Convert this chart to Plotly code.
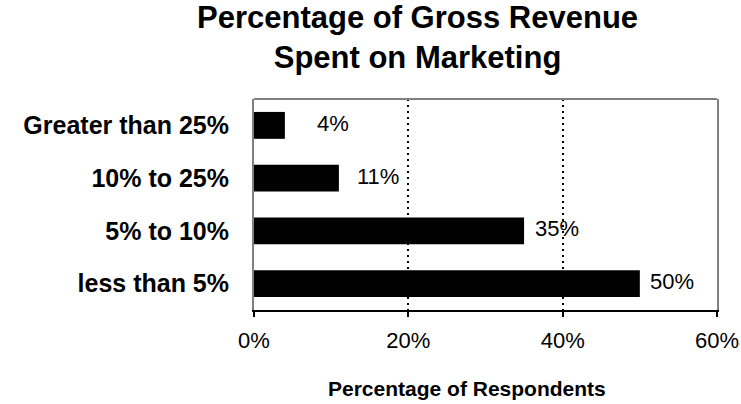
import plotly.graph_objects as go

# Survey results: share of respondents by marketing spend bracket (top to bottom)
categories = ["Greater than 25%", "10% to 25%", "5% to 10%", "less than 5%"]
respondents_pct = [4, 11, 35, 50]
x_ticks = [0, 20, 40, 60]
x_tick_labels = ["0%", "20%", "40%", "60%"]

# pixel nudges for the value labels, per bar (top to bottom)
label_xshift = [30, 16, 9, 8]

FONT = "Liberation Sans, Arial, sans-serif"

fig = go.Figure(
    go.Bar(
        x=respondents_pct,
        y=categories,
        orientation="h",
        marker=dict(color="#000000", line=dict(width=0)),
        hoverinfo="skip",
    )
)

for cat, val, dx in zip(categories, respondents_pct, label_xshift):
    fig.add_annotation(
        x=val, y=cat, xref="x", yref="y",
        text=f"{val}%", showarrow=False,
        xanchor="left", yanchor="middle",
        xshift=dx, yshift=2,
        font=dict(family=FONT, size=22, color="#000000"),
    )

# chart title
fig.add_annotation(
    x=0.5, y=1, xref="paper", yref="paper",
    text="<b>Percentage of Gross Revenue<br>Spent on Marketing</b>",
    showarrow=False, xanchor="center", yanchor="top",
    xshift=-68, yshift=101,
    font=dict(family=FONT, size=31, color="#000000"),
)

# x-axis title
fig.add_annotation(
    x=0.5, y=0, xref="paper", yref="paper",
    text="<b>Percentage of Respondents</b>", showarrow=False,
    xanchor="center", yanchor="middle", xshift=-19, yshift=-78,
    font=dict(family=FONT, size=21, color="#000000"),
)

# grey top edge of the plot frame
fig.add_shape(
    type="line", xref="paper", yref="paper",
    x0=0, x1=1, y0=1, y1=1,
    line=dict(color="#808080", width=2),
)

fig.update_layout(
    width=741, height=404,
    margin=dict(l=254, r=24, t=99, b=94, autoexpand=False),
    paper_bgcolor="#ffffff", plot_bgcolor="#ffffff",
    showlegend=False,
    bargap=0.49,
    xaxis=dict(
        range=[0, 60],
        tickvals=x_ticks, ticktext=x_tick_labels,
        showgrid=True, gridcolor="#000000", gridwidth=2, griddash="2px,4px",
        zeroline=False,
        showline=True, linecolor="#000000", linewidth=2,
        ticks="outside", ticklen=5, tickwidth=2, tickcolor="#000000",
        tickfont=dict(family=FONT, size=22, color="#000000"),
        ticklabelstandoff=5,
        automargin=False,
        fixedrange=True,
    ),
    yaxis=dict(
        autorange="reversed",
        showgrid=False, zeroline=False,
        showline=True, linecolor="#808080", linewidth=2, mirror=True,
        layer="below traces",
        ticks="", ticklabelstandoff=18,
        tickfont=dict(family=FONT, size=25, color="#000000", weight="bold"),
        automargin=False,
        fixedrange=True,
    ),
)

fig.write_html("out.html")
